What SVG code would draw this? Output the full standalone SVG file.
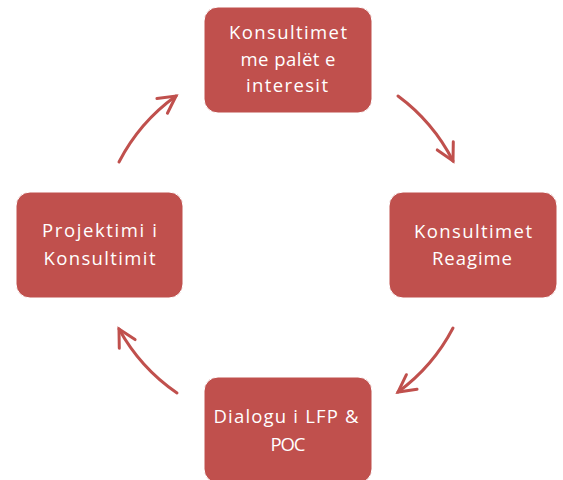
<svg xmlns="http://www.w3.org/2000/svg" width="563" height="480" viewBox="0 0 563 480">
<style>
.box{fill:#C0504D;stroke:#FFFFFF;stroke-width:1}
.lbl{fill:#FFFFFF;font-family:"Open Sans","Noto Sans","Liberation Sans",sans-serif;font-size:18.5px;text-anchor:middle}
.arc{fill:none;stroke:#C0504D;stroke-width:3;stroke-linecap:round}
</style>
<defs>
<marker id="ah" markerUnits="userSpaceOnUse" viewBox="-20 -12 24 24" refX="0" refY="0" markerWidth="24" markerHeight="24" orient="auto">
<path d="M-17,-9 L0,0 L-17,9" fill="none" stroke="#C0504D" stroke-width="3" stroke-linecap="round" stroke-linejoin="miter"/>
</marker>
</defs>
<rect width="563" height="480" fill="#FFFFFF"/>
<g id="connectors">
<path class="arc" d="M398,96 A186,186 0 0 1 453,161" marker-end="url(#ah)"/>
<path class="arc" d="M453,328 A186,186 0 0 1 398,392" marker-end="url(#ah)"/>
<path class="arc" d="M177,393 A186,186 0 0 1 119,329" marker-end="url(#ah)"/>
<path class="arc" d="M119,162 A186,186 0 0 1 176,96" marker-end="url(#ah)"/>
</g>
<g id="node-top">
<rect class="box" x="204" y="7" width="168" height="106" rx="14"/>
<text class="lbl" x="288" y="39" textLength="118" lengthAdjust="spacing">Konsultimet</text>
<text class="lbl" x="288" y="66" textLength="95" lengthAdjust="spacing">me palët e</text>
<text class="lbl" x="287" y="92" textLength="82" lengthAdjust="spacing">interesit</text>
</g>
<g id="node-right">
<rect class="box" x="389" y="192" width="168" height="106" rx="14"/>
<text class="lbl" x="473" y="238" textLength="118" lengthAdjust="spacing">Konsultimet</text>
<text class="lbl" x="472" y="265" textLength="80" lengthAdjust="spacing">Reagime</text>
</g>
<g id="node-bottom">
<rect class="box" x="204" y="377" width="168" height="106" rx="14"/>
<text class="lbl" x="286" y="423" textLength="145" lengthAdjust="spacing">Dialogu i LFP &amp;</text>
<text class="lbl" x="288" y="451" textLength="35" lengthAdjust="spacing">POC</text>
</g>
<g id="node-left">
<rect class="box" x="16" y="192" width="167" height="106" rx="14"/>
<text class="lbl" x="99.5" y="237" textLength="115" lengthAdjust="spacing">Projektimi i</text>
<text class="lbl" x="99.5" y="265" textLength="112" lengthAdjust="spacing">Konsultimit</text>
</g>
</svg>
